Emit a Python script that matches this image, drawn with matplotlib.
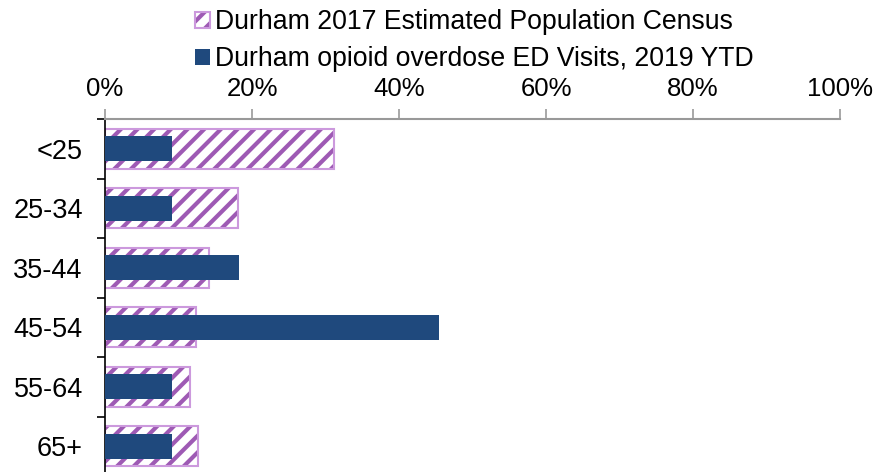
import matplotlib
matplotlib.use("Agg")
import matplotlib.pyplot as plt
import numpy as np

categories = ["<25", "25-34", "35-44", "45-54", "55-64", "65+"]
population_pct = [31.2, 18.1, 14.1, 12.4, 11.6, 12.7]
ed_visits_pct = [9.1, 9.1, 18.2, 45.4, 9.1, 9.1]
xticks = [0, 20, 40, 60, 80, 100]
xtick_labels = ["0%", "20%", "40%", "60%", "80%", "100%"]

plt.rcParams['font.family'] = ['Liberation Sans', 'DejaVu Sans']
plt.rcParams['hatch.linewidth'] = 3.0

fig = plt.figure(figsize=(8.76, 4.72), dpi=100)
ax = fig.add_axes([105/876, -4/472, 735/876, 357/472])

y = np.arange(len(categories))
hatch_bars = ax.barh(y, population_pct, height=0.68, facecolor='white', edgecolor='#9E5AB4',
                     hatch='//', linewidth=0, zorder=2)
edge_bars = ax.barh(y, population_pct, height=0.68, facecolor='none', edgecolor='#CC99DD',
                    linewidth=1.5, zorder=2.5)
ed_bars = ax.barh(y, ed_visits_pct, height=0.42, color='#1F497D', zorder=3)

ax.set_xlim(0, 100)
ax.set_ylim(len(categories) - 0.5, -0.5)
ax.xaxis.tick_top()
ax.set_xticks(xticks)
ax.set_xticklabels(xtick_labels)
ax.tick_params(axis='x', which='major', direction='out', length=7, width=1.2,
               color='#999999', labelsize=18.5, pad=6)
ax.set_yticks(y)
ax.set_yticklabels(categories)
ax.set_yticks(np.arange(len(categories) + 1) - 0.5, minor=True)
ax.tick_params(axis='y', which='major', length=0, labelsize=19.5, pad=16)
ax.tick_params(axis='y', which='minor', length=6, width=1.2, color='black')

for s in ['right', 'bottom']:
    ax.spines[s].set_visible(False)
ax.spines['top'].set_color('#999999')
ax.spines['top'].set_linewidth(1.5)
ax.spines['left'].set_color('black')
ax.spines['left'].set_linewidth(1.2)

fig.legend([(hatch_bars[0], edge_bars[0]), ed_bars[0]],
           ['Durham 2017 Estimated Population Census',
            'Durham opioid overdose ED Visits, 2019 YTD'],
           loc='upper left', bbox_to_anchor=(195/876, 1 - 9/472), frameon=False,
           fontsize=19.2, handlelength=0.55, handleheight=0.55, handletextpad=0.2,
           labelspacing=0.42, borderpad=0, borderaxespad=0)

fig.savefig("out.png", dpi=100)
